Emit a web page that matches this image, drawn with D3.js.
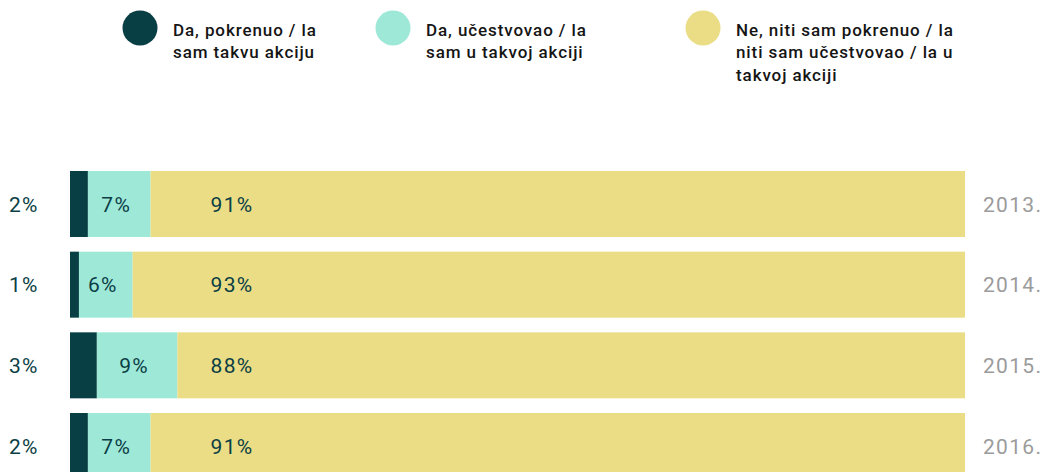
<!DOCTYPE html>
<html lang="sr">
  <head>
    <meta charset="utf-8">
    <style>
    body { margin: 0; background: #fff; }
    svg text { font-family: Roboto, "DejaVu Sans", sans-serif; }
    </style>
    <script src="https://d3js.org/d3.v7.min.js"></script>
  </head>
  <body>
    <script>

      // data
      var years = ["2013.", "2014.", "2015.", "2016."];
      var started = [2, 1, 3, 2];
      var participated = [7, 6, 9, 7];
      var neither = [91, 93, 88, 91];

      var seriesNames = [
        ["Da, pokrenuo / la", "sam takvu akciju"],
        ["Da, učestvovao / la", "sam u takvoj akciji"],
        ["Ne, niti sam pokrenuo / la", "niti sam učestvovao / la u", "takvoj akciji"]
      ];
      var colors = ["#073f44", "#9ee8d8", "#eadd85"];

      var w = 1045, h = 472;

      var svg = d3.select("body").append("svg")
          .attr("width", w)
          .attr("height", h);

      var xScale = d3.scaleLinear().domain([0, 100]).range([70, 965]);
      var yScale = d3.scaleBand()
          .domain(years)
          .range([171, 479])
          .paddingInner(0.182)
          .paddingOuter(0);

      var rows = years.map(function(y, i) {
        return {year: y, vals: [started[i], participated[i], neither[i]]};
      });

      // legend
      var legendX = [140, 393, 703];
      var legend = svg.append("g").selectAll("g")
          .data(seriesNames)
          .enter().append("g")
          .attr("transform", function(d, i) { return "translate(" + legendX[i] + ",28)"; });

      legend.append("circle")
          .attr("r", 17.5)
          .attr("fill", function(d, i) { return colors[i]; });

      legend.append("text")
          .attr("fill", "#151515")
          .style("font-size", "17px")
          .style("font-weight", "500")
          .style("letter-spacing", "0.9px")
          .selectAll("tspan")
          .data(function(d) { return d; })
          .enter().append("tspan")
          .attr("x", 33)
          .attr("y", function(d, j) { return 7.5 + j * 22.5; })
          .text(function(d) { return d; });

      // bars
      var row = svg.append("g").selectAll("g")
          .data(rows)
          .enter().append("g")
          .attr("transform", function(d) { return "translate(0," + yScale(d.year) + ")"; });

      row.selectAll("rect")
          .data(function(d) {
            var acc = 0;
            return d.vals.map(function(v, k) {
              var s = {x0: acc, x1: acc + v, k: k};
              acc += v;
              return s;
            });
          })
          .enter().append("rect")
          .attr("x", function(d) { return xScale(d.x0); })
          .attr("width", function(d) { return xScale(d.x1) - xScale(d.x0); })
          .attr("height", yScale.bandwidth())
          .attr("fill", function(d) { return colors[d.k]; });

      var mid = yScale.bandwidth() / 2;
      var labelColor = "#0b3f45";

      function label(sel) {
        sel.attr("y", mid)
           .attr("dy", "0.36em")
           .style("font-size", "21px")
           .style("letter-spacing", "1.3px");
      }

      // first segment value, left of bar
      row.append("text")
          .call(label)
          .attr("x", 9)
          .attr("fill", labelColor)
          .text(function(d) { return d.vals[0] + "%"; });

      // second segment value, centred
      row.append("text")
          .call(label)
          .attr("x", function(d) { return xScale(d.vals[0] + d.vals[1] / 2) - 3; })
          .attr("text-anchor", "middle")
          .attr("fill", labelColor)
          .text(function(d) { return d.vals[1] + "%"; });

      // third segment value, fixed column
      row.append("text")
          .call(label)
          .attr("x", xScale(18.1))
          .attr("text-anchor", "middle")
          .attr("fill", labelColor)
          .text(function(d) { return d.vals[2] + "%"; });

      // year labels
      row.append("text")
          .call(label)
          .attr("x", 983)
          .attr("fill", "#9b9b9b")
          .text(function(d) { return d.year; });

    </script>
  </body>
</html>
